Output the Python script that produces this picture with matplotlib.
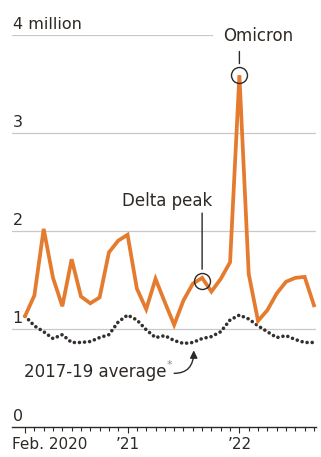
import matplotlib
matplotlib.use("Agg")
import matplotlib.pyplot as plt
import numpy as np

# Monatswerte Feb. 2020 - Sep. 2022 (Millionen)
months = np.arange(32)
actual = [1.13, 1.34, 2.02, 1.52, 1.23, 1.71, 1.33, 1.26, 1.32, 1.78,
          1.90, 1.96, 1.41, 1.20, 1.51, 1.27, 1.04, 1.29, 1.46, 1.52,
          1.38, 1.51, 1.68, 3.59, 1.56, 1.08, 1.19, 1.36, 1.48, 1.52,
          1.53, 1.24]
avg_2017_19 = [1.13, 1.03, 0.97, 0.90, 0.94, 0.86, 0.86, 0.87, 0.91, 0.94,
               1.07, 1.14, 1.09, 0.99, 0.91, 0.93, 0.88, 0.85, 0.86, 0.90,
               0.92, 0.97, 1.09, 1.14, 1.10, 1.03, 0.97, 0.91, 0.93, 0.89,
               0.86, 0.86]
y_ticks = [0, 1, 2, 3, 4]
y_labels = ["0", "1", "2", "3", "4 million"]
x_ticks = [0, 11, 23]
x_labels = ["Feb. 2020", "\u201921", "\u201922"]

ORANGE = "#e57b2e"
DARK = "#2e2925"
GRID = "#c9c9c9"

W, H = 321, 457
fig = plt.figure(figsize=(W / 100, H / 100), dpi=100)

# Achse: x=-1.4..31.2 -> px 12..316, y=0..4 -> px 426.7..35
ax = fig.add_axes([12 / W, (H - 426.7) / H, 304 / W, (426.7 - 35) / H])
ax.set_xlim(-1.4, 31.22)
ax.set_ylim(0, 4)
for s in ["top", "right", "left"]:
    ax.spines[s].set_visible(False)
ax.spines["bottom"].set_color(DARK)
ax.spines["bottom"].set_linewidth(1.0)

# Gitterlinien
for v in y_ticks[1:]:
    xmax = 200 / 304 if v == 4 else 1
    ax.axhline(v, xmin=0, xmax=xmax, color=GRID, lw=0.9, zorder=1)

# y-Beschriftungen
for v, lab in zip(y_ticks, y_labels):
    ax.annotate(lab, xy=(0, v), xycoords=("axes fraction", "data"),
                xytext=(0.5, 4.2), textcoords="offset points",
                ha="left", va="baseline", fontsize=11.5, color=DARK)
ax.set_yticks([])

# x-Ticks
ax.set_xticks(x_ticks)
ax.set_xticklabels([])
ax.set_xticks(months, minor=True)
ax.tick_params(axis="x", which="both", direction="out", color=DARK, width=0.8)
ax.tick_params(axis="x", which="major", length=4.2)
ax.tick_params(axis="x", which="minor", length=2.6)
for t, lab in zip(x_ticks, x_labels):
    ha = "left" if t == 0 else "center"
    xt = -9.5 if t == 0 else 0
    ax.annotate(lab, xy=(t, 0), xycoords="data", xytext=(xt, -7.5),
                textcoords="offset points", ha=ha, va="top",
                fontsize=11, color=DARK)

# Linien
ax.plot(months, avg_2017_19, color="#35302c", lw=2.6, ls=(0, (0.01, 1.4)),
        dash_capstyle="round", zorder=3, clip_on=False)
ax.plot(months, actual, color=ORANGE, lw=2.7, solid_joinstyle="miter",
        zorder=4, clip_on=False)

# Omicron
ax.plot(23, actual[23], "o", ms=11.5, mfc="none", mec=DARK, mew=1.0, zorder=5)
ax.annotate("", xy=(23, actual[23] + 0.09), xytext=(23, actual[23] + 0.27),
            arrowprops=dict(arrowstyle="-", color=DARK, lw=1.0))
ax.text(23 + 2.0, actual[23] + 0.35, "Omicron", ha="center", va="baseline",
        fontsize=12, color=DARK)

# Delta peak
ax.plot(19, actual[19] - 0.03, "o", ms=11.5, mfc="none", mec=DARK, mew=1.0, zorder=5)
ax.annotate("", xy=(19, actual[19] + 0.06), xytext=(19, 2.21),
            arrowprops=dict(arrowstyle="-", color=DARK, lw=1.0))
ax.text(15.2, 2.25, "Delta peak", ha="center", va="baseline",
        fontsize=12, color=DARK)

# 2017-19 average
ax.text(-0.15, 0.51, "2017-19 average", ha="left", va="baseline",
        fontsize=12, color=DARK)
ax.text(15.2, 0.6, "*", ha="left", va="baseline", fontsize=8, color="#8a8580")
ax.annotate("", xy=(18.1, 0.78), xytext=(16.0, 0.545),
            arrowprops=dict(arrowstyle="-|>,head_length=0.45,head_width=0.22",
                            connectionstyle="angle3,angleA=0,angleB=90",
                            color=DARK, lw=1.0, shrinkA=0, shrinkB=0))

fig.savefig("out.png", dpi=100)
